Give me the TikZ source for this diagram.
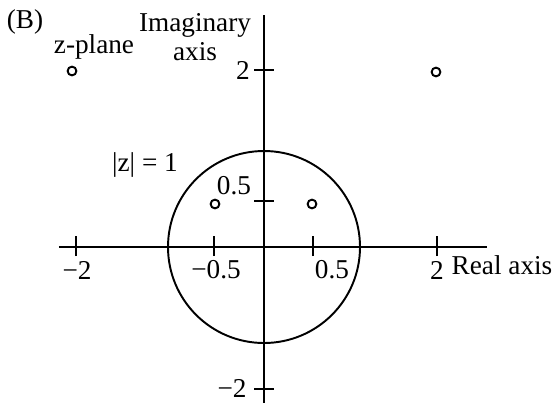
\documentclass[tikz,border=0pt]{standalone}
\usepackage{fontspec}
\setmainfont{Liberation Serif}
\usetikzlibrary{positioning}
\tikzset{pole/.style={circle,draw,line width=1.1pt,inner sep=0pt,minimum size=5pt},
  lbl/.style={inner sep=0pt}}

\begin{document}
\begin{tikzpicture}[x=0.02cm,y=0.02cm,line width=1.1pt,font=\fontsize{15.5}{16.5}\selectfont]
        \useasboundingbox (-264,-156) rectangle (289,247);
        \draw (-205,0)--(223,0);
        \draw (0,232)--(0,-156);
        \draw (0,0) circle (96);
        \foreach \x in {-188,-50,49,173}{\draw (\x,-9)--(\x,11);}
        \foreach \y in {177,46,-142}{\draw (-10,\y)--(10,\y);}
        \foreach \x/\t [count=\i] in {-187/{−2},-48/{−0.5},68/{0.5},173/{2}}{\node[lbl] (hx\i) at (\x,-23){\t};}
        \foreach \y/\t/\x [count=\i] in {177/{2}/-21,61/{0.5}/-30,-141/{−2}/-32}{\node[lbl] (vy\i) at (\x,\y){\t};}
        \node[lbl] (fig) at (-239,225){(B)};
        \node[lbl] (zplane) at (-170,200){z-plane};
        \node[lbl,align=center] (imag) at (-69,210){Imaginary\\axis};
        \node[lbl] (real) at (238,-18){Real axis};
        \node[lbl] (unit) at (-119,82){|z| = 1};
        \node[pole] (p1) at (-49,43){};
        \node[pole] (p2) at (48,43){};
        \node[pole] (p3) at (-192,176){};
        \node[pole] (p4) at (172,175){};
      \end{tikzpicture}
\end{document}
